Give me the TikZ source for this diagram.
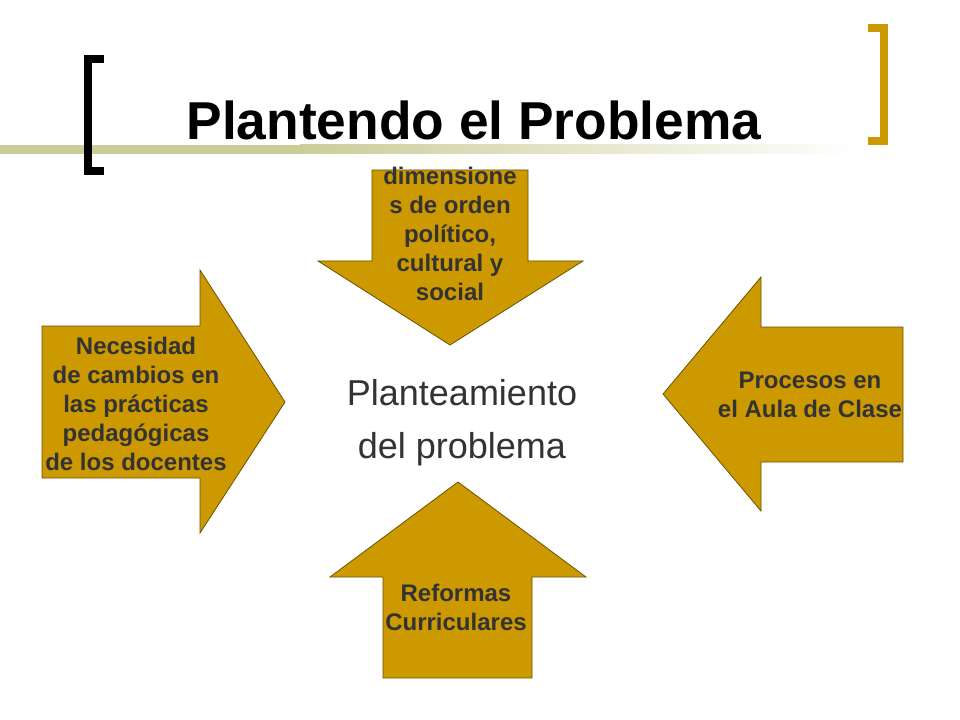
\documentclass[tikz,border=0pt]{standalone}
\usepackage{fontspec}
\setmainfont{Liberation Sans}
\usepackage{xcolor}
\usepackage{tikz}
\definecolor{gold}{HTML}{CC9900}
\definecolor{goldedge}{HTML}{6B5200}
\definecolor{khaki}{HTML}{CCCC99}
\definecolor{ink}{HTML}{333333}
\tikzset{
  shapearrow/.style={fill=gold, draw=goldedge, line width=0.6pt, line join=miter},
  bracket/.style={line width=6pt, line cap=butt, line join=miter},
  lab/.style={text=ink, font=\fontsize{18}{21.75}\selectfont\bfseries, align=center, inner sep=0pt},
  labc/.style={text=ink, font=\fontsize{27}{39.75}\selectfont, align=center, inner sep=0pt},
  ttl/.style={text=black, font=\fontsize{40}{48}\selectfont\bfseries, inner sep=0pt},
}

\begin{document}
\begin{tikzpicture}[x=0.75pt, y=-0.75pt]
  \fill[white] (0,0) rectangle (960,720);
  \useasboundingbox (0,0) rectangle (960,720);
  % title rule
  \fill[khaki] (0,145) rectangle (300,154);
  \shade[left color=khaki, right color=white] (299.5,145) rectangle (860,154);
  \draw[bracket, black] (104,58.8) -- (88.3,58.8) -- (88.3,171) -- (104,171);
  \draw[bracket, gold] (868,28) -- (884,28) -- (884,141) -- (868,141);
  \node[ttl, anchor=base] (title) at (474,140) {Plantendo el Problema};
  % arrows
  \draw[shapearrow] (372,170) -- (528,170) -- (528,261) -- (583,261) -- (450,345) -- (318,261) -- (372,261) -- cycle;
  \draw[shapearrow] (42,326) -- (200,326) -- (200,270) -- (285,402) -- (200,533) -- (200,478) -- (42,478) -- cycle;
  \draw[shapearrow] (903,327) -- (761,327) -- (761,277) -- (663,394) -- (761,511) -- (761,462) -- (903,462) -- cycle;
  \draw[shapearrow] (383,678) -- (383,577) -- (330,577) -- (458,482) -- (586,577) -- (532,577) -- (532,678) -- cycle;
  \node[lab] (dimen) at (450,234) {dimensione\\s de orden\\político,\\cultural y\\social};
  \node[lab] (necesidad) at (136,404) {Necesidad\\de cambios en\\las prácticas\\pedagógicas\\de los docentes};
  \node[lab] (procesos) at (810,395) {Procesos en\\el Aula de Clase};
  \node[lab] (reformas) at (456,607) {Reformas\\Curriculares};
  \node[labc] (plant) at (462,423) {Planteamiento\\del problema};
\end{tikzpicture}
\end{document}
